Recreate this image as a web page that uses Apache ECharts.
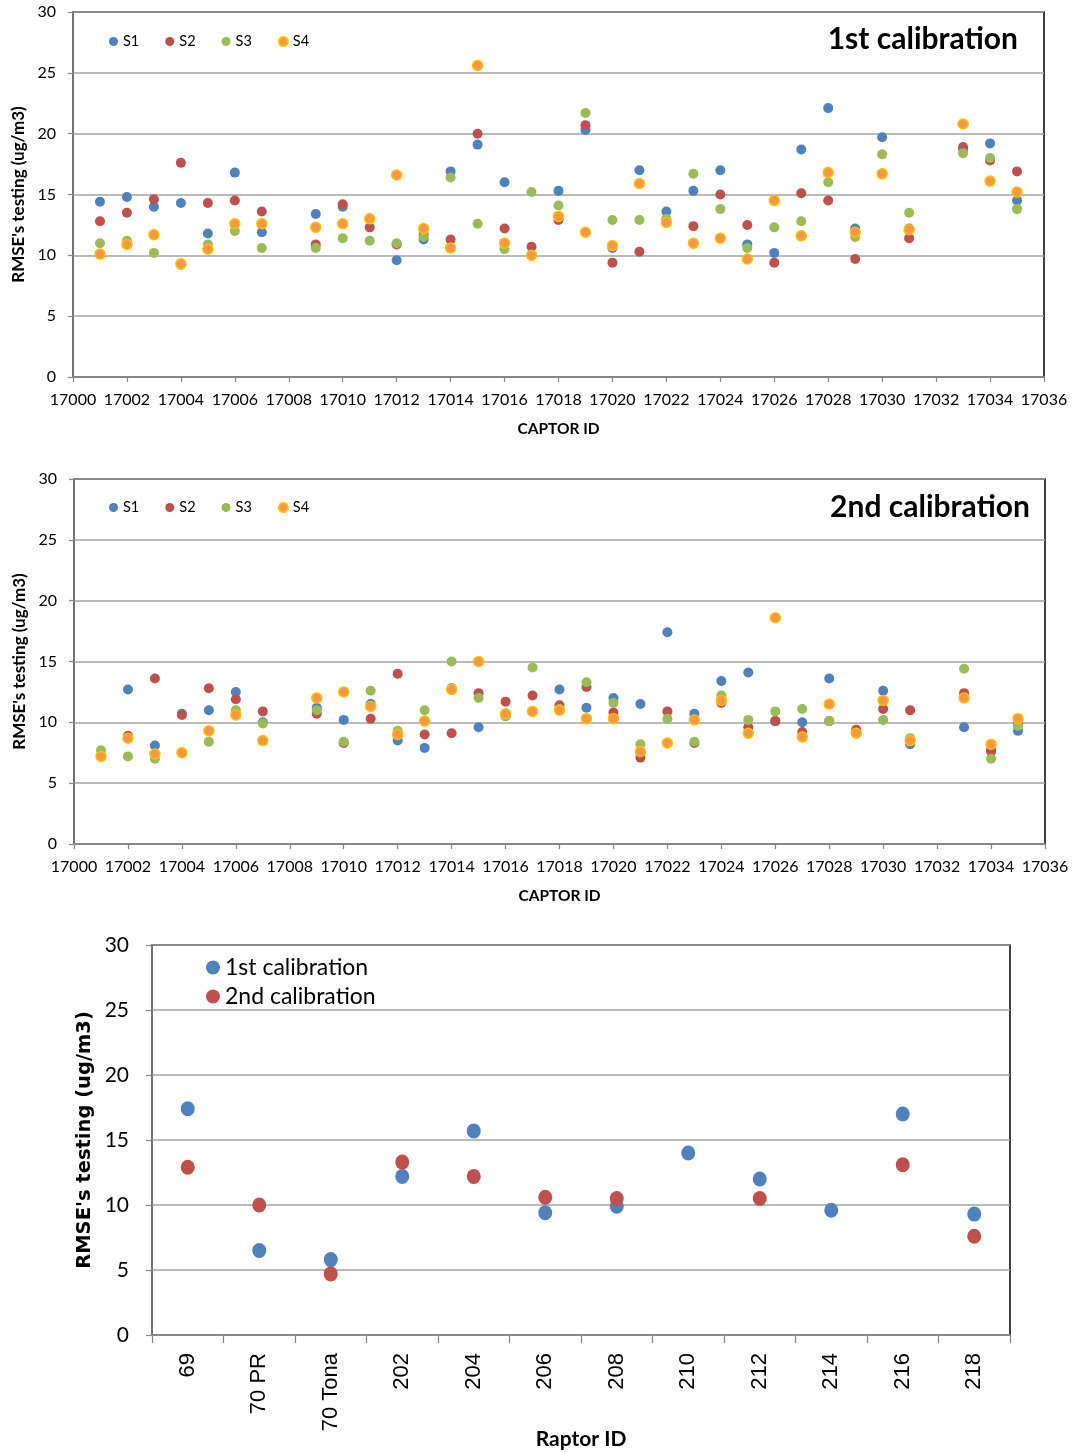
<!DOCTYPE html>
<html>
<head>
<meta charset="utf-8">
<script src="https://cdn.jsdelivr.net/npm/echarts@6/dist/echarts.min.js"></script>
<style>
html,body{margin:0;padding:0;background:#fff;}
#chart{width:1072px;height:1452px;}
</style>
</head>
<body>
<div id="chart"></div>
<script>
// ---------- DATA ----------
var captorIds = [17001,17002,17003,17004,17005,17006,17007,17009,17010,17011,17012,17013,17014,17015,17016,17017,17018,17019,17020,17021,17022,17023,17024,17025,17026,17027,17028,17029,17030,17031,17033,17034,17035];
var seriesNames = ['S1','S2','S3','S4'];

// 1st calibration
var cal1S1 = [14.4,14.8,14.0,14.3,11.8,16.8,11.9,13.4,14.0,13.0,9.6,11.3,16.9,19.1,16.0,10.0,15.3,20.3,10.6,17.0,13.6,15.3,17.0,10.9,10.2,18.7,22.1,12.2,19.7,12.2,18.7,19.2,14.5];
var cal1S2 = [12.8,13.5,14.6,17.6,14.3,14.5,13.6,10.9,14.2,12.3,10.9,11.7,11.3,20.0,12.2,10.7,12.9,20.7,9.4,10.3,12.9,12.4,15.0,12.5,9.4,15.1,14.5,9.7,16.7,11.4,18.9,17.8,16.9];
var cal1S3 = [11.0,11.2,10.2,9.2,10.9,12.0,10.6,10.6,11.4,11.2,11.0,11.5,16.4,12.6,10.5,15.2,14.1,21.7,12.9,12.9,13.0,16.7,13.8,10.6,12.3,12.8,16.0,11.5,18.3,13.5,18.4,18.0,13.8];
var cal1S4 = [10.1,10.9,11.7,9.3,10.5,12.6,12.6,12.3,12.6,13.0,16.6,12.2,10.6,25.6,11.0,10.0,13.2,11.9,10.8,15.9,12.7,11.0,11.4,9.7,14.5,11.6,16.8,11.9,16.7,12.1,20.8,16.1,15.2];

// 2nd calibration
var cal2S1 = [7.2,12.7,8.1,10.7,11.0,12.5,10.0,11.2,10.2,11.5,8.5,7.9,12.8,9.6,10.5,10.9,12.7,11.2,12.0,11.5,17.4,10.7,13.4,14.1,10.1,10.0,13.6,9.1,12.6,8.2,9.6,7.8,9.3];
var cal2S2 = [7.2,8.9,13.6,10.6,12.8,11.9,10.9,10.7,8.3,10.3,14.0,9.0,9.1,12.4,11.7,12.2,11.4,12.9,10.8,7.1,10.9,8.3,11.6,9.6,10.1,9.2,10.1,9.4,11.1,11.0,12.4,7.6,9.9];
var cal2S3 = [7.7,7.2,7.0,7.5,8.4,11.0,9.9,11.0,8.4,12.6,9.3,11.0,15.0,12.0,10.5,14.5,11.1,13.3,11.6,8.2,10.3,8.4,12.2,10.2,10.9,11.1,10.1,9.1,10.2,8.7,14.4,7.0,9.7];
var cal2S4 = [7.2,8.7,7.4,7.5,9.3,10.6,8.5,12.0,12.5,11.3,9.0,10.1,12.7,15.0,10.7,10.9,11.0,10.3,10.3,7.6,8.3,10.2,11.8,9.1,18.6,8.8,11.5,9.1,11.8,8.5,12.0,8.2,10.3];

// Raptor comparison
var raptorIds = ['69','70 PR','70 Tona','202','204','206','208','210','212','214','216','218'];
var raptorCal1 = [17.4,6.5,5.8,12.2,15.7,9.4,9.9,14.0,12.0,9.6,17.0,9.3];
var raptorCal2 = [12.9,10.0,4.7,13.3,12.2,10.6,10.5,null,10.5,null,13.1,7.6];

// ---------- STYLE ----------
var colors = ['#4f81bd','#c0504d','#9bbb59','#f79646'];
var gridGray = '#a3a3a3';
var axisGray = '#868686';
var calibri = 'Lato, "Open Sans", sans-serif';
var arial = '"Liberation Sans", Arial, sans-serif';

function pairs(vals){ return captorIds.map(function(id,i){ return [id, vals[i]]; }); }
function sItem(i){
  var s = {color: colors[i], opacity: 1};
  if (i === 3) { s.borderColor = '#ffc000'; s.borderWidth = 1.5; }
  return s;
}
var cal1 = [cal1S1,cal1S2,cal1S3,cal1S4];
var cal2 = [cal2S1,cal2S2,cal2S3,cal2S4];

var series = [];
cal1.forEach(function(v,i){
  series.push({type:'scatter', name:seriesNames[i], xAxisIndex:0, yAxisIndex:0, data:pairs(v), symbolSize:10, itemStyle:sItem(i)});
});
cal2.forEach(function(v,i){
  series.push({type:'scatter', name:seriesNames[i], xAxisIndex:1, yAxisIndex:1, data:pairs(v), symbolSize:10, itemStyle:sItem(i)});
});
series.push({type:'scatter', name:'1st calibration', xAxisIndex:2, yAxisIndex:2, data:raptorCal1, symbolSize:[14,15], itemStyle:{color:'#4f81bd', opacity:1}});
series.push({type:'scatter', name:'2nd calibration', xAxisIndex:2, yAxisIndex:2, data:raptorCal2, symbolSize:[14,15], itemStyle:{color:'#c0504d', opacity:1}});

function valX(g){
  return {
    type:'value', gridIndex:g, min:17000, max:17036, interval:2,
    axisLine:{show:true, onZero:false, lineStyle:{color:axisGray, width:1.5}},
    axisTick:{show:true, length:5, lineStyle:{color:axisGray, width:1.2}},
    splitLine:{show:false},
    axisLabel:{fontFamily:calibri, fontSize:16, color:'#000', margin:15, formatter:function(v){ return String(v); }},
    name:'CAPTOR ID', nameLocation:'middle', nameGap:44, nameMoveOverlap:false,
    nameTextStyle:{fontFamily:calibri, fontWeight:'bold', fontSize:15.5, color:'#000'}
  };
}
function valY(g){
  return {
    type:'value', gridIndex:g, min:0, max:30, interval:5,
    axisLine:{show:true, lineStyle:{color:axisGray, width:1.5}},
    axisTick:{show:true, length:5, lineStyle:{color:axisGray, width:1.2}},
    splitLine:{show:true, lineStyle:{color:gridGray, width:1.5}},
    axisLabel:{fontFamily:calibri, fontSize:16, color:'#000', margin:17},
    name:"RMSE's testing (ug/m3)", nameLocation:'middle', nameGap:46, nameMoveOverlap:false,
    nameTextStyle:{fontFamily:calibri, fontWeight:'bold', fontSize:17, color:'#000'}
  };
}

var y3 = valY(2);
y3.axisLabel = {fontFamily:calibri, fontSize:21, color:'#000', margin:23};
y3.axisTick = {show:true, length:6, lineStyle:{color:axisGray, width:1.2}};
y3.nameGap = 57;
y3.nameTextStyle = {fontFamily:'"DejaVu Sans", sans-serif', fontWeight:'bold', fontSize:19.5, color:'#000'};

var gridBase = {show:true, borderColor:'#000', borderWidth:1.5, backgroundColor:'transparent', containLabel:false, outerBoundsMode:'none'};
function mkGrid(l,t,w,h){ var g = {}; for (var k in gridBase) g[k] = gridBase[k]; g.left=l; g.top=t; g.width=w; g.height=h; return g; }

var option = {
  animation:false,
  backgroundColor:'#fff',
  title:[
    {text:'1st calibration', right:49, top:19, textStyle:{fontFamily:calibri, fontWeight:'bold', fontSize:30, color:'#000'}},
    {text:'2nd calibration', right:37, top:487, textStyle:{fontFamily:calibri, fontWeight:'bold', fontSize:30, color:'#000'}}
  ],
  legend:[
    {data:seriesNames, left:104, top:29, icon:'circle', itemWidth:9, itemHeight:9, itemGap:26,
     textStyle:{fontFamily:calibri, fontSize:14.5, color:'#000'}},
    {data:seriesNames, left:104, top:495, icon:'circle', itemWidth:9, itemHeight:9, itemGap:26,
     textStyle:{fontFamily:calibri, fontSize:14.5, color:'#000'}},
    {data:['1st calibration','2nd calibration'], orient:'vertical', left:201, top:951, icon:'circle',
     itemWidth:14, itemHeight:15, itemGap:6,
     textStyle:{fontFamily:calibri, fontSize:23, color:'#000'}}
  ],
  grid:[
    mkGrid(73, 12, 971, 365),
    mkGrid(74, 479, 971, 365),
    mkGrid(152, 945, 858, 390)
  ],
  xAxis:[
    valX(0),
    valX(1),
    {
      type:'category', gridIndex:2, data:raptorIds, boundaryGap:true,
      axisLine:{show:true, lineStyle:{color:axisGray, width:1.5}},
      axisTick:{show:true, length:8, interval:0, alignWithLabel:false, lineStyle:{color:axisGray, width:1.2}},
      axisLabel:{rotate:90, interval:0, fontFamily:arial, fontSize:22, color:'#000', margin:18},
      splitLine:{show:false},
      name:'Raptor ID', nameLocation:'middle', nameGap:94, nameMoveOverlap:false,
      nameTextStyle:{fontFamily:calibri, fontWeight:'bold', fontSize:21, color:'#000'}
    }
  ],
  yAxis:[valY(0), valY(1), y3],
  series:series
};

var chart = echarts.init(document.getElementById('chart'), null, {renderer:'canvas'});
chart.setOption(option);
</script>
</body>
</html>
